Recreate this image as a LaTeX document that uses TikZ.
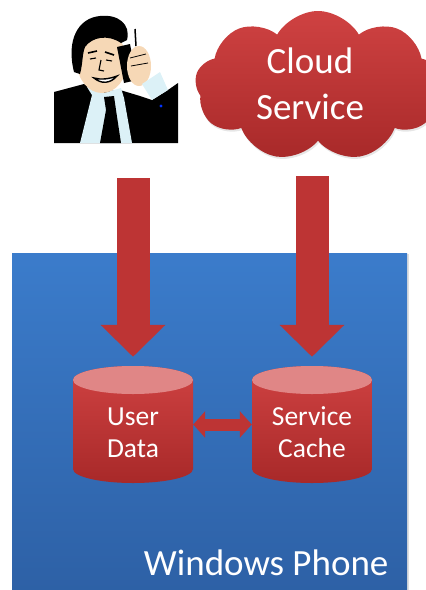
\documentclass[tikz,border=0pt]{standalone}
\usepackage{fontspec}
\setmainfont{Carlito}
\usetikzlibrary{positioning,arrows.meta,shapes.geometric,shapes.symbols,shadows}
\definecolor{wpblue}{HTML}{3B7CCB}
\definecolor{wpbluedark}{HTML}{2D60A5}
\definecolor{redtop}{HTML}{CF4242}
\definecolor{redbot}{HTML}{A82929}
\definecolor{arrowred}{HTML}{BD3434}
\definecolor{cappink}{HTML}{E08686}
\definecolor{skin}{HTML}{F6D8B6}
\definecolor{shirt}{HTML}{DCF1F7}

\begin{document}
\begin{tikzpicture}[x=1pt, y=-1pt,
  device/.style={rectangle, inner sep=0pt, top color=wpblue, bottom color=wpbluedark,
                 drop shadow={opacity=.25, shadow xshift=2pt, shadow yshift=-1pt}},
  % a database drum: body and lid are drawn inside the node's box
  store/.style={rectangle, minimum width=120pt, minimum height=117pt, inner sep=0pt,
                path picture={
                  \shade[top color=redtop, bottom color=redbot]
                    ([yshift=-14pt]path picture bounding box.north west)
                    -- ([yshift=14pt]path picture bounding box.south west)
                    arc[start angle=180, end angle=360, x radius=60pt, y radius=14pt]
                    -- ([yshift=-14pt]path picture bounding box.north east)
                    arc[start angle=0, end angle=180, x radius=60pt, y radius=14pt] -- cycle;
                  \fill[cappink] ([yshift=-14pt]path picture bounding box.north)
                    ellipse [x radius=60pt, y radius=14pt];},
                label={[storetext]center:#1}},
  storetext/.style={align=center, text=white, yshift=-8pt, font=\fontsize{27.5}{32}\selectfont},
  flow/.style={draw=arrowred, line width=33pt, -{Triangle[length=32pt, width=63pt]}},
  link/.style={draw=arrowred, line width=12pt,
               {Triangle[length=12pt, width=26pt]}-{Triangle[length=12pt, width=26pt]}}]
\useasboundingbox (0,0) rectangle (426,590);

% the phone and its two stores
\node[device, anchor=north west, minimum width=395pt, minimum height=345pt] (phone) at (12,253) {};
\node[anchor=base east, text=white, font=\fontsize{37}{44}\selectfont] (phonelabel) at (392,575) {Windows Phone};
\node[store={User\\Data}] (udata) at (133,424.5) {};
\node[store={Service\\Cache}] (scache) at (312,424.5) {};

% the cloud
\node[cloud, cloud puffs=9, cloud puff arc=120, aspect=1.8, minimum width=246pt,
      minimum height=150pt, top color=redtop, bottom color=redbot, text=white, align=center,
      font=\fontsize{37}{46}\selectfont,
      drop shadow={opacity=.2, shadow xshift=1pt, shadow yshift=-2pt}] (cloud) at (318,86) {};
\node[text=white, align=center, font=\fontsize{37}{46}\selectfont] (cloudtext) at (310,84) {Cloud\\Service};

% the user, a man on his phone
\node[minimum width=125pt, minimum height=130pt, inner sep=0pt] (man) at (116,78) {};
\fill[black] (54,143) -- (54,92) -- (84,84) -- (100,92) -- (120,90) -- (140,96) -- (152,100)
  -- (168,90) -- (178,83) -- (178,143) -- cycle;
\fill[shirt] (80,143) -- (92,95) -- (87,87) -- (104,93) -- (121,88) -- (124,98) -- (132,143) -- cycle;
\fill[black] (104,97) -- (114,96) -- (116,110) -- (121,143) -- (100,143) -- (106,110) -- cycle;
\fill[skin] (102,62) ellipse [x radius=25, y radius=31];
\fill[black] (74,72) .. controls (66,40) and (78,18) .. (100,16)
  .. controls (118,14) and (131,24) .. (127,40) -- (121,43)
  .. controls (108,34) and (92,37) .. (85,47)
  .. controls (82,55) and (83,63) .. (80,74) -- cycle;
\draw[line width=1.6pt] (88,53) -- (97,51) (105,52) -- (114,55);
\draw[line width=1.1pt] (90,59) -- (96,58) (106,60) -- (112,61) (101,60) -- (99,70) -- (104,71);
\draw[line width=1.4pt, fill=white] (94,78) .. controls (101,84) and (110,84) .. (117,76)
  .. controls (109,79) and (101,80) .. (94,78) -- cycle;
\fill[black] (117,47) -- (130,44) -- (137,80) -- (124,83) -- cycle;
\draw[line width=1.5pt] (135,29) -- (136,46);
\fill[skin] (139,66) ellipse [x radius=12, y radius=20];
\draw[line width=.8pt] (130,58) -- (146,54) (131,66) -- (148,63);
\fill[shirt] (142,84) -- (160,72) -- (168,90) -- (152,100) -- cycle;
\fill[blue!80!cyan] (161,106) circle [radius=1.6];

% data flows
\draw[flow, shorten <=35pt, shorten >=9pt] (man.south -| udata.north) -- (udata.north);
\draw[flow, shorten <=35pt, shorten >=9pt] (cloud.south -| scache.north) -- (scache.north);
\draw[link] (udata) -- (scache);
\end{tikzpicture}
\end{document}
